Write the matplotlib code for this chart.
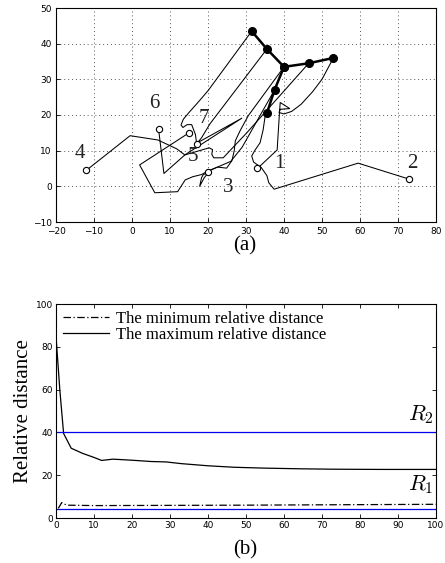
import matplotlib
matplotlib.use("Agg")
import matplotlib.pyplot as plt
import numpy as np

# ---------------- data: panel (a) trajectories ----------------
p1_x = [33, 38.2, 38.8, 39.0, 40.5, 41.5, 39.0, 38.7, 40.0, 42.0, 44.5, 47.5, 50.0, 53.0]
p1_y = [5, 10.2, 20.5, 23.5, 22.5, 21.8, 21.6, 20.7, 20.3, 21.0, 23.0, 26.5, 30.0, 36.0]

p2_x = [73, 59.5, 37.4, 36.0, 35.5, 34.0, 32.0, 31.5, 32.4, 33.7, 34.5, 35.0, 35.5]
p2_y = [2, 6.5, -0.8, 1.0, 3.0, 5.3, 6.8, 8.5, 10.2, 12.2, 15.8, 19.4, 20.5]

p3_x = [20, 18.7, 18.3, 17.8, 19.0, 20.6, 22.5, 24.9, 26.3, 26.9, 27.2, 28.5, 30.6, 40.0]
p3_y = [4, 3.2, 2.4, 0.0, 2.4, 4.5, 5.4, 5.1, 7.2, 10.0, 12.8, 15.7, 19.8, 33.5]

p4_x = [-12, -0.5, 6.8, 11.8, 13.9, 28.9, 17.2, 18.3, 20.5, 35.5]
p4_y = [4.5, 14.2, 13.0, 10.5, 8.8, 19.1, 12.2, 13.6, 17.5, 38.5]

p5_x = [15, 2.0, 6.0, 12.0, 14.0, 16.0, 18.3, 20.0, 22.5, 26.0, 29.0, 37.5]
p5_y = [15, 6.0, -1.8, -1.5, 1.8, 2.7, 3.3, 4.3, 5.4, 7.0, 11.0, 27.0]

p6_x = [7, 8.4, 13.9, 20.3, 21.2, 21.0, 21.5, 24.0, 30.2, 46.5]
p6_y = [16, 3.6, 8.8, 10.8, 10.3, 9.0, 8.0, 8.0, 15.0, 34.5]

p7_x = [17, 16.7, 15.7, 14.5, 13.4, 12.9, 13.5, 15.0, 17.5, 20.0, 31.5]
p7_y = [12, 14.5, 17.3, 17.3, 16.5, 17.2, 18.8, 20.7, 23.7, 26.8, 43.5]

# final formation (filled dots) and its links
form_a_x = [31.5, 35.5, 40.0, 46.5, 53.0]
form_a_y = [43.5, 38.5, 33.5, 34.5, 36.0]
form_b_x = [40.0, 37.5, 35.5]
form_b_y = [33.5, 27.0, 20.5]

agent_labels = ["1", "2", "3", "4", "5", "6", "7"]
label_x = [38.9, 73.8, 25.2, -13.7, 16.1, 6.0, 18.9]
label_y = [6.4, 6.4, -0.4, 9.3, 8.3, 23.1, 19.1]

# ---------------- data: panel (b) ----------------
max_t = [0, 1, 2, 4, 7, 10, 12, 15, 20, 25, 29, 33, 40, 47, 55, 64, 73, 85, 100]
max_d = [85, 60, 39.5, 32.6, 30.2, 28.3, 26.9, 27.5, 27.0, 26.4, 26.2, 25.4, 24.4, 23.7, 23.3, 23.0, 22.8, 22.7, 22.7]
min_t = [0.6, 1.5, 2.8, 10, 30, 50, 75, 100]
min_d = [4.5, 7.2, 6.0, 5.8, 5.9, 6.0, 6.2, 6.4]
R1 = 4
R2 = 40

serif = ["Liberation Serif", "DejaVu Serif"]
plt.rcParams["mathtext.fontset"] = "cm"

fig = plt.figure(figsize=(4.45, 5.63), dpi=100)

# ---------- panel (a) ----------
ax1 = fig.add_axes([56/445, 1-222/563, 380/445, 214/563])
paths = [(p1_x, p1_y), (p2_x, p2_y), (p3_x, p3_y), (p4_x, p4_y),
         (p5_x, p5_y), (p6_x, p6_y), (p7_x, p7_y)]
for px, py in paths:
    ax1.plot(px, py, color="black", lw=0.75, zorder=2)
    ax1.plot(px[0], py[0], marker="o", ms=4.5, mfc="white", mec="black",
             mew=0.8, zorder=3)
ax1.plot(form_a_x, form_a_y, color="black", lw=1.8, marker="o", ms=5.5,
         zorder=4)
ax1.plot(form_b_x, form_b_y, color="black", lw=1.8, marker="o", ms=5.5,
         zorder=4)
for t, x, y in zip(agent_labels, label_x, label_y):
    ax1.text(x, y, t, family=serif, fontsize=15, ha="center", va="center",
             color="#222222")
ax1.set_xlim(-20, 80)
ax1.set_ylim(-10, 50)
ax1.set_xticks(np.arange(-20, 81, 10))
ax1.set_yticks(np.arange(-10, 51, 10))
ax1.grid(True, linestyle=(0, (1, 3)), color="#555555", lw=0.7)
ax1.tick_params(direction="in", labelsize=6.5, length=3, width=0.6, pad=2)
ax1.tick_params(axis="x", pad=3.5)
ax1.tick_params(axis="y", pad=3)
for s in ax1.spines.values():
    s.set_linewidth(0.8)
fig.text(245/445, 1-246/563, "(a)", family=serif, fontsize=15,
         ha="center", va="center")

# ---------- panel (b) ----------
ax2 = fig.add_axes([56/445, 1-518/563, 380/445, 214/563])
ax2.plot(min_t, min_d, color="black", lw=0.9, linestyle=(0, (6, 2, 1, 2)),
         label="The minimum relative distance")
ax2.plot(max_t, max_d, color="black", lw=0.9,
         label="The maximum relative distance")
ax2.axhline(R2, color="#0000ee", lw=0.9)
ax2.axhline(R1, color="#0000ee", lw=0.9)
ax2.text(96, 48.5, r"$R_2$", fontsize=16, ha="center", va="center")
ax2.text(96, 15.5, r"$R_1$", fontsize=16, ha="center", va="center")
ax2.set_xlim(0, 100)
ax2.set_ylim(0, 100)
ax2.set_xticks(np.arange(0, 101, 10))
ax2.set_yticks(np.arange(0, 101, 20))
ax2.tick_params(direction="in", labelsize=6.5, length=3, width=0.6, pad=2,
                right=True, top=True)
for s in ax2.spines.values():
    s.set_linewidth(0.8)
ax2.set_ylabel("Relative distance", family=serif, fontsize=15, labelpad=2)
leg = ax2.legend(loc="upper left", frameon=False,
                 prop={"family": serif, "size": 12},
                 handlelength=2.8, handletextpad=0.4, labelspacing=0.0,
                 borderaxespad=0.2, borderpad=0.2)
fig.text(245/445, 1-550/563, "(b)", family=serif, fontsize=15,
         ha="center", va="center")

fig.savefig("out.png", dpi=100)
